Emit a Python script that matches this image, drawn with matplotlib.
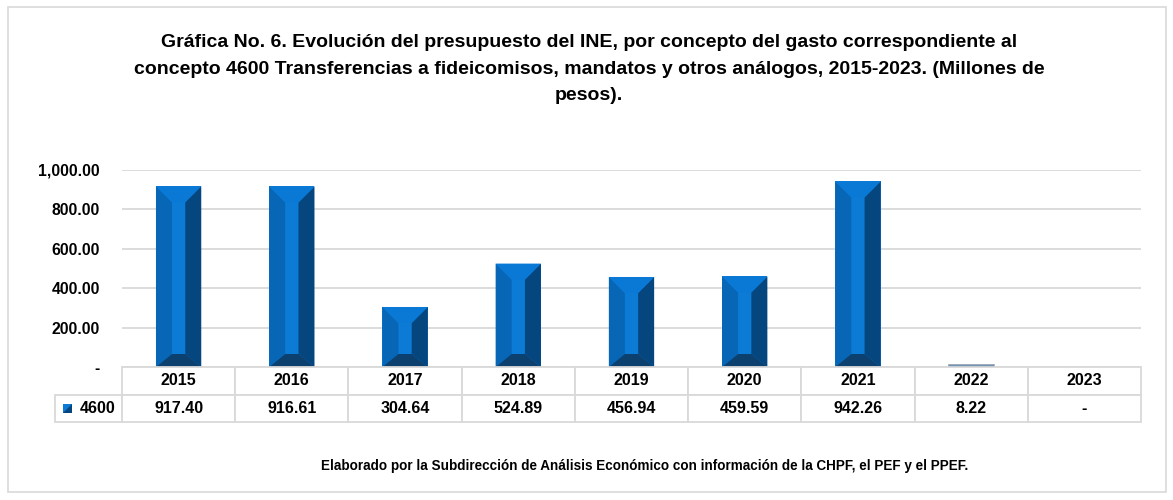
import matplotlib.pyplot as plt
from matplotlib.patches import Polygon, Rectangle

plt.rcParams['font.family'] = ['Liberation Sans', 'DejaVu Sans']
plt.rcParams['font.weight'] = 'bold'

# Datos
anios = ['2015', '2016', '2017', '2018', '2019', '2020', '2021', '2022', '2023']
valores = [917.40, 916.61, 304.64, 524.89, 456.94, 459.59, 942.26, 8.22, 0.0]
etiquetas = ['917.40', '916.61', '304.64', '524.89', '456.94', '459.59', '942.26', '8.22', '-']
serie = '4600'
ticks_y = [0, 200, 400, 600, 800, 1000]
ticks_txt = ['-', '200.00', '400.00', '600.00', '800.00', '1,000.00']

titulo = ('Gráfica No. 6. Evolución del presupuesto del INE, por concepto del gasto correspondiente al\n'
          'concepto 4600 Transferencias a fideicomisos, mandatos y otros análogos, 2015-2023. (Millones de\n'
          'pesos).')
fuente = 'Elaborado por la Subdirección de Análisis Económico con información de la CHPF, el PEF y el PPEF.'

W, H = 1173, 500
fig = plt.figure(figsize=(W / 100, H / 100), dpi=100)
fig.patches.append(Rectangle((8 / W, 8 / H), 1158 / W, 485 / H, transform=fig.transFigure,
                             fill=False, edgecolor='#d9d9d9', lw=1.2))

ax_l, ax_r, ax_b, ax_t = 122, 1141, 367, 170
ax = fig.add_axes([ax_l / W, 1 - ax_b / H, (ax_r - ax_l) / W, (ax_b - ax_t) / H])
ax.set_xlim(-0.5, len(anios) - 0.5)
ax.set_ylim(0, 1000)

# colores del bisel
c_top, c_left, c_mid, c_right, c_bot = '#0a79d6', '#0766b5', '#0b7bd6', '#05467f', '#0c406f'
ancho = 0.4
px_x = len(anios) / (ax_r - ax_l)       # unidades x por pixel
px_y = 1000 / (ax_b - ax_t)             # unidades y por pixel
ins = 16 * px_x
d_top, d_bot = 16 * px_y, 13 * px_y

barras = ax.bar(range(len(anios)), valores, width=ancho, color=c_mid, edgecolor='none', zorder=2)
for b in barras:
    h = b.get_height()
    if h <= 0:
        continue
    x0 = b.get_x()
    x1 = x0 + b.get_width()
    xi0, xi1 = x0 + ins, x1 - ins
    dt, db = d_top, d_bot
    if h < dt + db:
        dt = db = h / 2
    yi0, yi1 = db, h - dt
    caras = [
        ([(x0, 0), (xi0, yi0), (xi0, yi1), (x0, h)], c_left),
        ([(x1, 0), (x1, h), (xi1, yi1), (xi1, yi0)], c_right),
        ([(x0, h), (x1, h), (xi1, yi1), (xi0, yi1)], c_top),
        ([(x0, 0), (xi0, yi0), (xi1, yi0), (x1, 0)], c_bot),
    ]
    for pts, c in caras:
        ax.add_patch(Polygon(pts, closed=True, facecolor=c, edgecolor='none', zorder=3))
    if h < 20:
        ax.plot([x0, x1], [h, h], color='#8a9bb0', lw=1.2, zorder=4)

ax.set_yticks(ticks_y)
ax.set_yticklabels(ticks_txt, fontsize=11.3, fontweight='bold')
ax.tick_params(axis='y', length=0, pad=16)
ax.set_xticks([])
ax.grid(axis='y', color='#d9d9d9', lw=1.3, zorder=0)
ax.set_axisbelow(True)
for s in ax.spines.values():
    s.set_visible(False)

# tabla de datos
ancho_eje = ax_r - ax_l
col0 = 67 / ancho_eje
col = 1 / len(anios)
tabla = ax.table(cellText=[[''] + anios, [serie] + etiquetas],
                 colWidths=[col0] + [col] * len(anios),
                 cellLoc='center',
                 bbox=[-col0, -55 / (ax_b - ax_t), 1 + col0, 55 / (ax_b - ax_t)])
tabla.auto_set_font_size(False)
for (r, c), celda in tabla.get_celld().items():
    celda.set_edgecolor('#d9d9d9')
    celda.set_linewidth(1.3)
    celda.get_text().set_fontsize(11.5)
    celda.get_text().set_fontweight('bold')
    if r == 0 and c == 0:
        celda.visible_edges = ''
    if r == 1 and c == 0:
        celda.get_text().set_ha('right')
        celda.PAD = 0.1
tabla.zorder = 5

# cuadro de leyenda
lx0 = (63 - ax_l) / ancho_eje * len(anios) - 0.5
lx1 = (72 - ax_l) / ancho_eje * len(anios) - 0.5
ly0 = -(413 - ax_b) * px_y
ly1 = -(404 - ax_b) * px_y
ax.add_patch(Polygon([(lx0, ly0), (lx1, ly0), (lx1, ly1), (lx0, ly1)], facecolor=c_mid,
                     edgecolor='none', clip_on=False, zorder=6))
ax.add_patch(Polygon([(lx0, ly0), (lx1, ly0), (lx1, ly1)], facecolor=c_right,
                     edgecolor='none', clip_on=False, zorder=6))

fig.text(589 / W, 1 - 69 / H, titulo, ha='center', va='center', fontsize=14,
         fontweight='bold', linespacing=1.74)
fig.text(645 / W, 1 - 466 / H, fuente, ha='center', va='center', fontsize=9.75, fontweight='bold')

fig.savefig('out.png', dpi=100)
